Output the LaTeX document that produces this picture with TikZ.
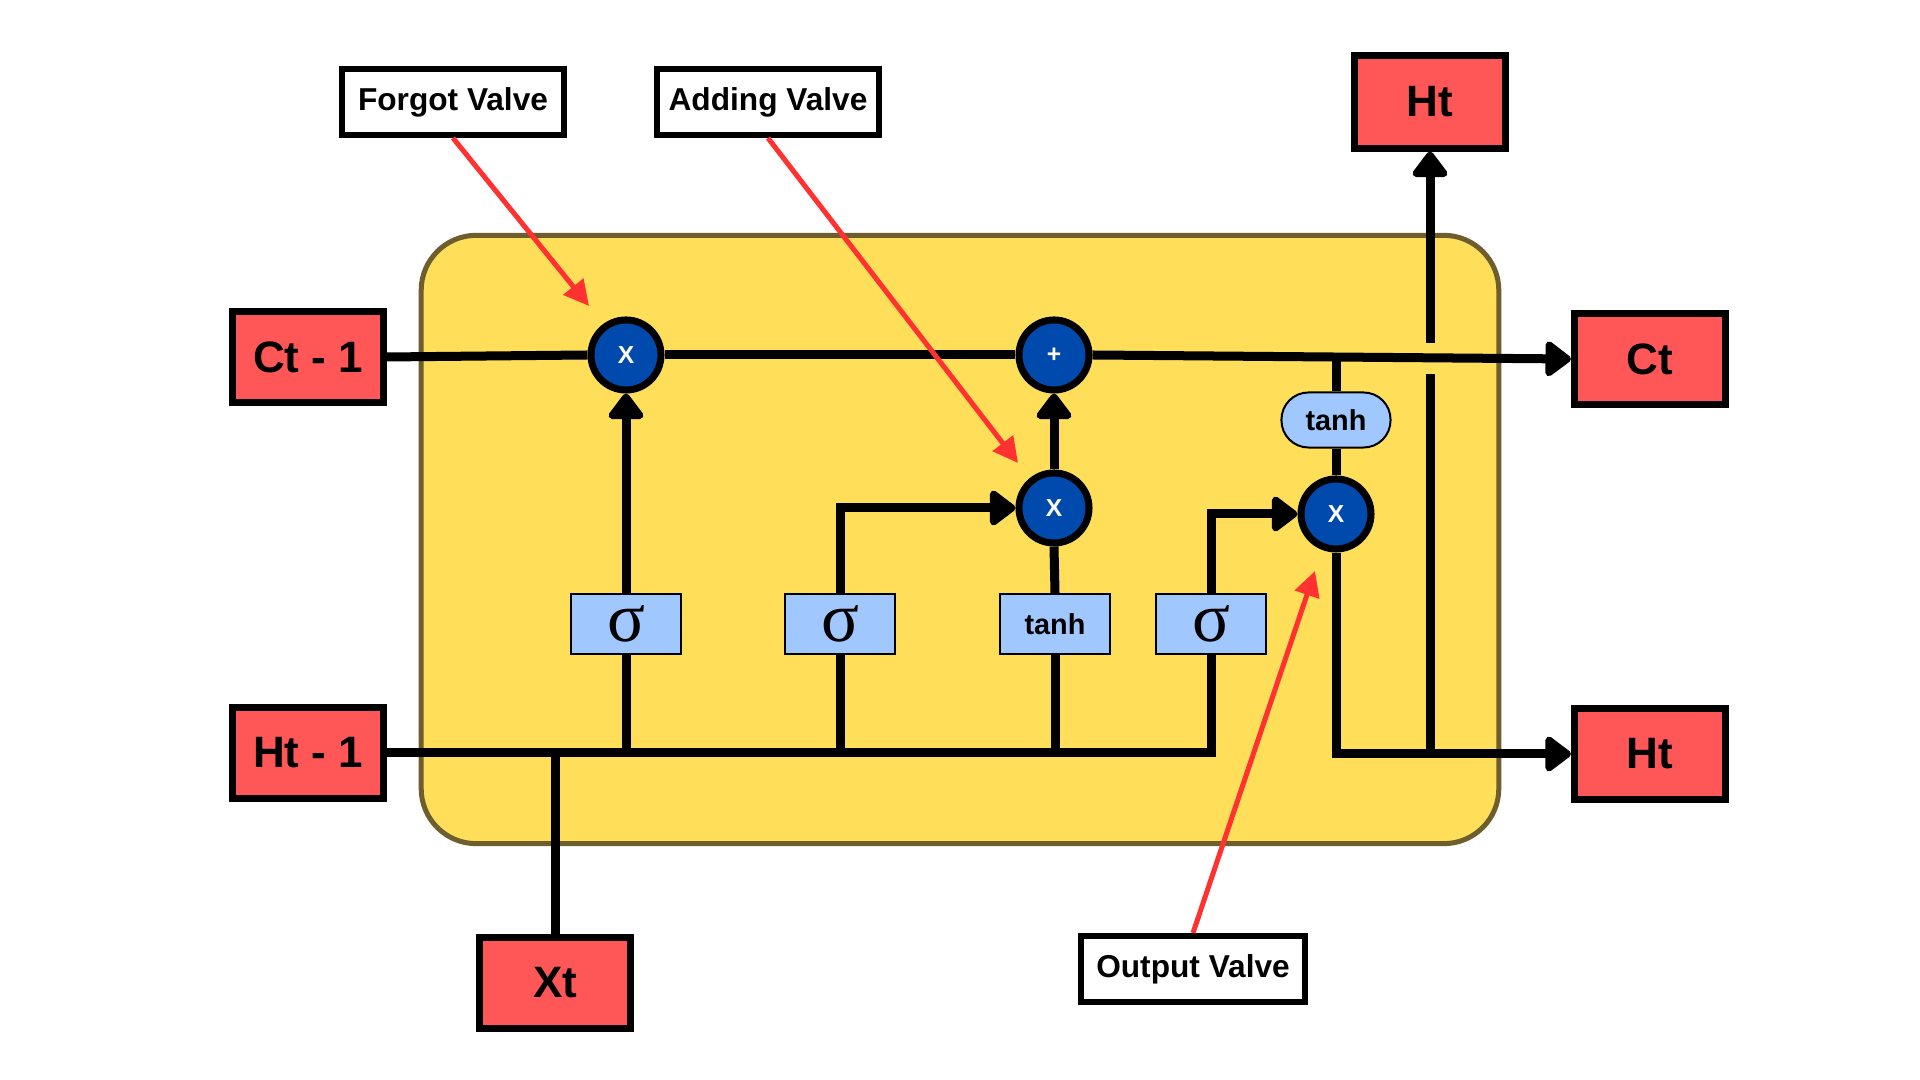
\documentclass[tikz,border=0pt]{standalone}
\usepackage{fontspec}
\setmainfont{Liberation Sans}
\newfontfamily\sigfont{Liberation Serif}
\usetikzlibrary{arrows.meta}
\definecolor{cellyellow}{HTML}{FFDE59}
\definecolor{cellborder}{HTML}{6E5E2E}
\definecolor{boxred}{HTML}{FF5757}
\definecolor{opblue}{HTML}{004AAD}
\definecolor{gateblue}{HTML}{A0C8FF}
\definecolor{pointred}{HTML}{FF3131}
\begin{document}
\begin{tikzpicture}[x=0.01cm,y=-0.01cm,
 iobox/.style={draw=black, fill=boxred, line width=0.07cm, minimum width=1.51cm, minimum height=0.90cm, inner sep=0pt, font=\fontsize{12.5}{15}\selectfont\bfseries},
 labelbox/.style={draw=black, fill=white, line width=0.06cm, minimum width=2.22cm, minimum height=0.66cm, inner sep=0pt, font=\fontsize{9}{11}\selectfont\bfseries},
 opnode/.style={circle, draw=black, fill=opblue, line width=0.07cm, minimum size=0.70cm, inner sep=0pt, text=white, font=\fontsize{7}{8}\selectfont\bfseries},
 gatebox/.style={draw=black, fill=gateblue, line width=0.02cm, minimum width=1.09cm, minimum height=0.60cm, inner sep=0pt},
 sigmatext/.style={font=\fontsize{20}{20}\sigfont},
 tanhtext/.style={font=\fontsize{8.2}{10}\selectfont\bfseries},
 wire/.style={line width=0.09cm, draw=black},
 flow/.style={wire, -{Triangle[length=0.28cm,width=0.40cm,round]}},
 pointer/.style={line width=0.05cm, draw=pointred, -{Triangle[length=0.25cm,width=0.25cm]}}
]
\useasboundingbox (0,0) rectangle (1920,1080);
% cell body
\node[draw=cellborder, fill=cellyellow, line width=0.05cm, rounded corners=0.55cm, minimum width=10.77cm, minimum height=6.08cm] (cell) at (960,539.5) {};

% input / output boxes
\node[iobox] (ctm1) at (308,357) {Ct - 1};
\node[iobox] (htm1) at (308,753) {Ht - 1};
\node[iobox] (xt) at (555,983) {Xt};
\node[iobox] (ct) at (1650,359) {Ct};
\node[iobox] (htr) at (1650,754) {Ht};
\node[iobox, minimum height=0.92cm] (httop) at (1430,102) {Ht};

% label boxes
\node[labelbox] (forgot) at (453,102) {Forgot Valve};
\node[labelbox] (adding) at (768,102) {Adding Valve};
\node[labelbox, minimum width=2.24cm, minimum height=0.66cm] (output) at (1193,969) {Output Valve};

% gate boxes
\node[gatebox, sigmatext] (s1) at (626,624) {σ};
\node[gatebox, sigmatext] (s2) at (840,624) {σ};
\node[gatebox, tanhtext] (tb) at (1055,624) {tanh};
\node[gatebox, sigmatext] (s3) at (1211,624) {σ};
\node[gatebox, tanhtext, rounded corners=0.27cm, minimum height=0.55cm] (pill) at (1336,420) {tanh};

% operations
\node[opnode] (c1) at (626,355) {X};
\node[opnode] (c2) at (1054,355) {+};
\node[opnode] (c3) at (1054,508) {X};
\node[opnode] (c4) at (1336,514) {X};

% cell state line
\draw[wire] (ctm1.east) -- (c1.west);
\draw[wire] (c1.east) -- (c2.west);
\draw[flow] (c2.east) -- (ct.west);
\draw[wire] (pill.north) -- (pill.north |- c2.east);

% hidden state line
\draw[wire] (htm1.east) -- (s3.south |- htm1.east) -- (s3.south);
\draw[wire] (xt.north) -- (xt.north |- htm1.east);
\draw[wire] (s1.south) -- (s1.south |- htm1.east);
\draw[wire] (s2.south) -- (s2.south |- htm1.east);
\draw[wire] (tb.south) -- (tb.south |- htm1.east);

% gate outputs
\draw[flow] (s1.north) -- (c1.south);
\draw[flow] (s2.north) |- (c3.west);
\draw[wire] (tb.north) -- (c3.south);
\draw[flow] (c3.north) -- (c2.south);
\draw[flow] (s3.north) |- (c4.west);
\draw[wire] (pill.south) -- (c4.north);

% output
\draw[flow] (c4.south) |- (htr.west);
\coordinate (gaplo) at (1430,374);
\coordinate (gaphi) at (1430,343);
\draw[wire] (httop.south |- htr.west) -- (gaplo);
\draw[flow] (gaphi) -- (httop.south);

% pointers
\coordinate (fvtip) at (589,306);
\coordinate (avtip) at (1018,463);
\coordinate (ovtip) at (1315,571);
\draw[pointer] (forgot.south) -- (fvtip);
\draw[pointer] (adding.south) -- (avtip);
\draw[pointer] (output.north) -- (ovtip);
\end{tikzpicture}
\end{document}
